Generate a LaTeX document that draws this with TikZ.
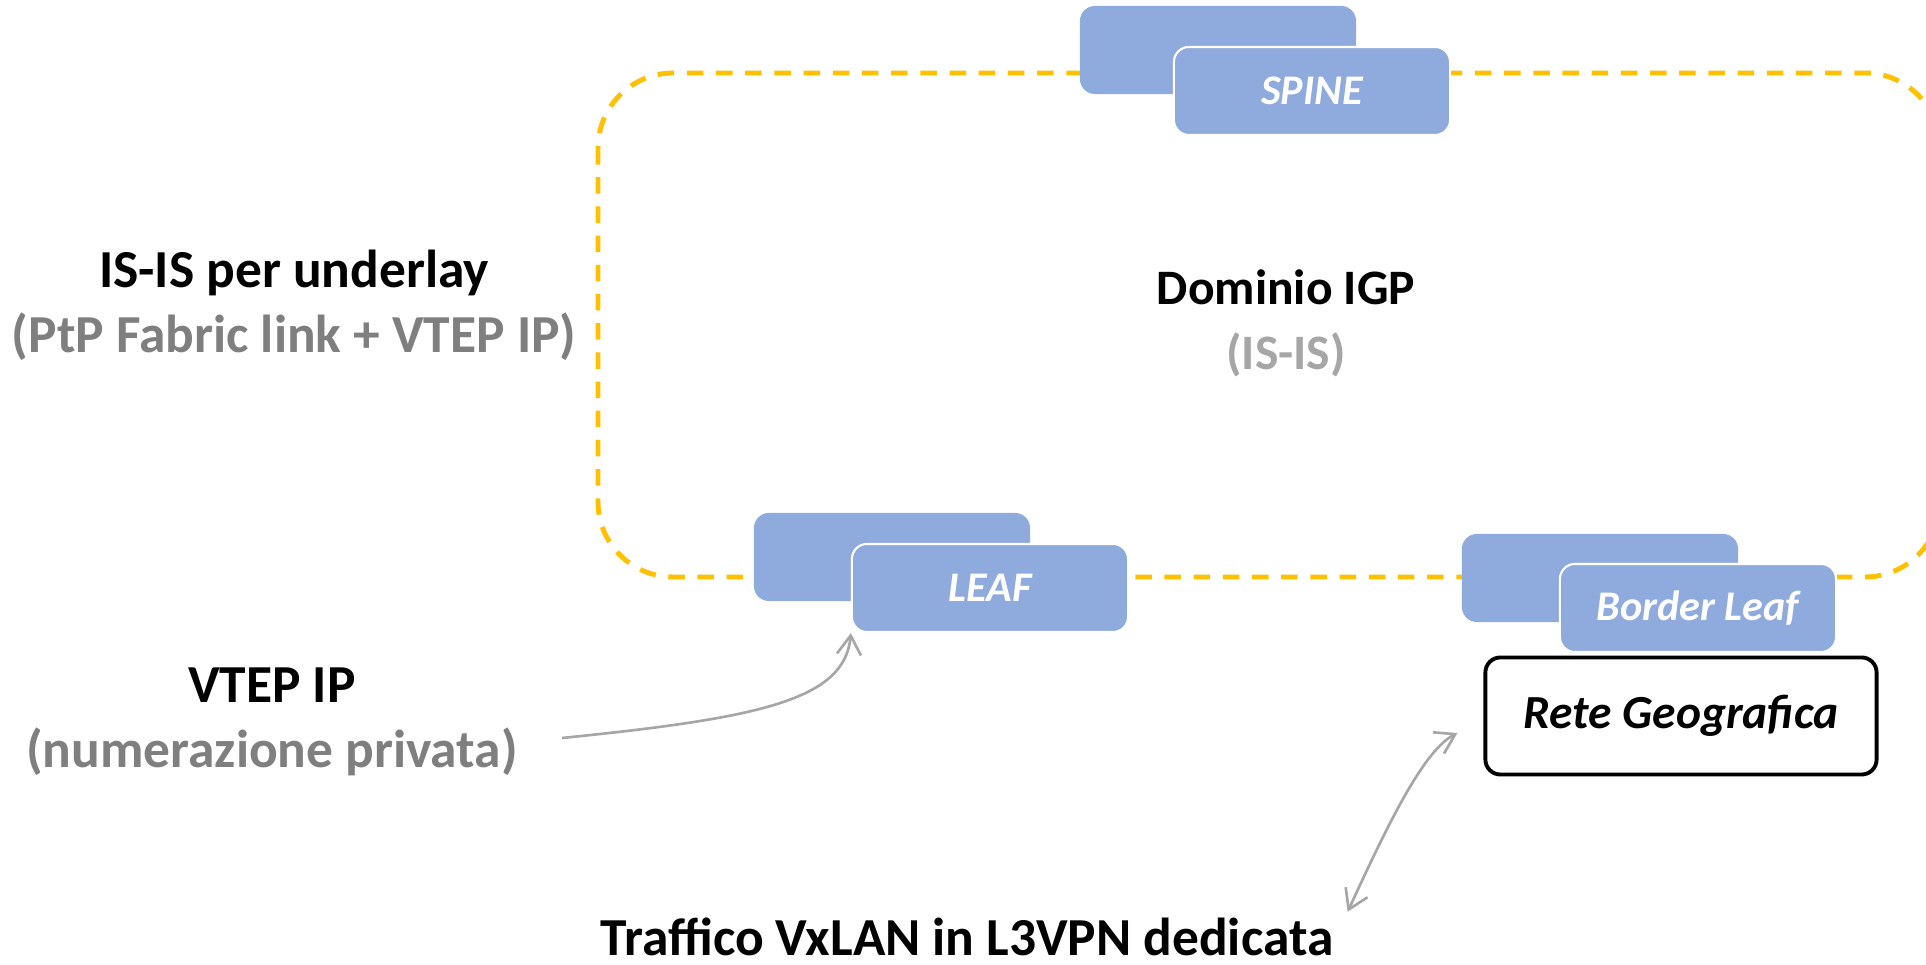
\documentclass[tikz,border=0pt]{standalone}
\usepackage{fontspec}
\setmainfont{Carlito}
\definecolor{fabric}{RGB}{143,170,220}
\definecolor{igp}{RGB}{255,192,0}
\definecolor{soft}{RGB}{127,127,127}
\definecolor{pale}{RGB}{166,166,166}
\usepackage{tikz}
\usetikzlibrary{arrows.meta,positioning,calc}
\tikzset{
  devback/.style={fill=fabric, rounded corners=1.5mm, minimum width=2.76cm,
              minimum height=0.88cm, inner sep=0pt},
  devfront/.style={devback, draw=white, line width=0.6pt, text=white,
              font=\fontsize{12}{14}\selectfont\bfseries\itshape},
  wan/.style={draw=black, line width=1.1pt, rounded corners=1.5mm, fill=white,
              minimum width=3.91cm, minimum height=1.17cm, inner sep=0pt,
              font=\fontsize{13.5}{16}\selectfont\bfseries\itshape},
  note/.style={align=center, inner sep=1pt, font=\fontsize{15.2}{18.5}\selectfont\bfseries},
  igpzone/.style={igp, line width=1.4pt, dash pattern=on 4.7pt off 3.6pt, rounded corners=7.5mm},
  pointer/.style={->, pale, line width=0.75pt},
}

\begin{document}
\begin{tikzpicture}[x=0.01cm,y=-0.01cm,>={Straight Barb[length=1.9mm,width=2.4mm]}]
    \useasboundingbox (0,0) rectangle (1926,965);
    \draw[igpzone] (598,73) rectangle (1940,577);
    \node[devback]  (spineb)  at (1218,50) {};
    \node[devfront] (spine)   at (1312,91) {SPINE};
    \node[devback]  (leafb)   at (892,557) {};
    \node[devfront] (leaf)    at (990,588) {LEAF};
    \node[devback]  (borderb) at (1600,578) {};
    \node[devfront] (border)  at (1698,608) {Border Leaf};
    \node[wan]      (rete)    at (1681,716) {Rete Geografica};
    \node[note] (underlay) at (294,305) {IS-IS per underlay\\ \textcolor{soft}{(PtP Fabric link + VTEP IP)}};
    \node[note,font=\fontsize{14.1}{18.5}\selectfont\bfseries] (igpdom) at (1286,323) {Dominio IGP\\ \textcolor{pale}{(IS-IS)}};
    \node[note] (vtep)    at (272,722) {VTEP IP\\ \textcolor{soft}{(numerazione privata)}};
    \node[note] (traffic) at (967,937) {Traffico VxLAN in L3VPN dedicata};
    \draw[pointer] ($(vtep.east)+(40,16)$) .. controls (760,718) and (845,700) .. (leaf.south west);
    \draw[pointer,<->] ($(traffic.north east)+(10,-2)$) .. controls (1392,815) and (1425,750) .. ($(rete.west)+(-26,17)$);
  \end{tikzpicture}
\end{document}
